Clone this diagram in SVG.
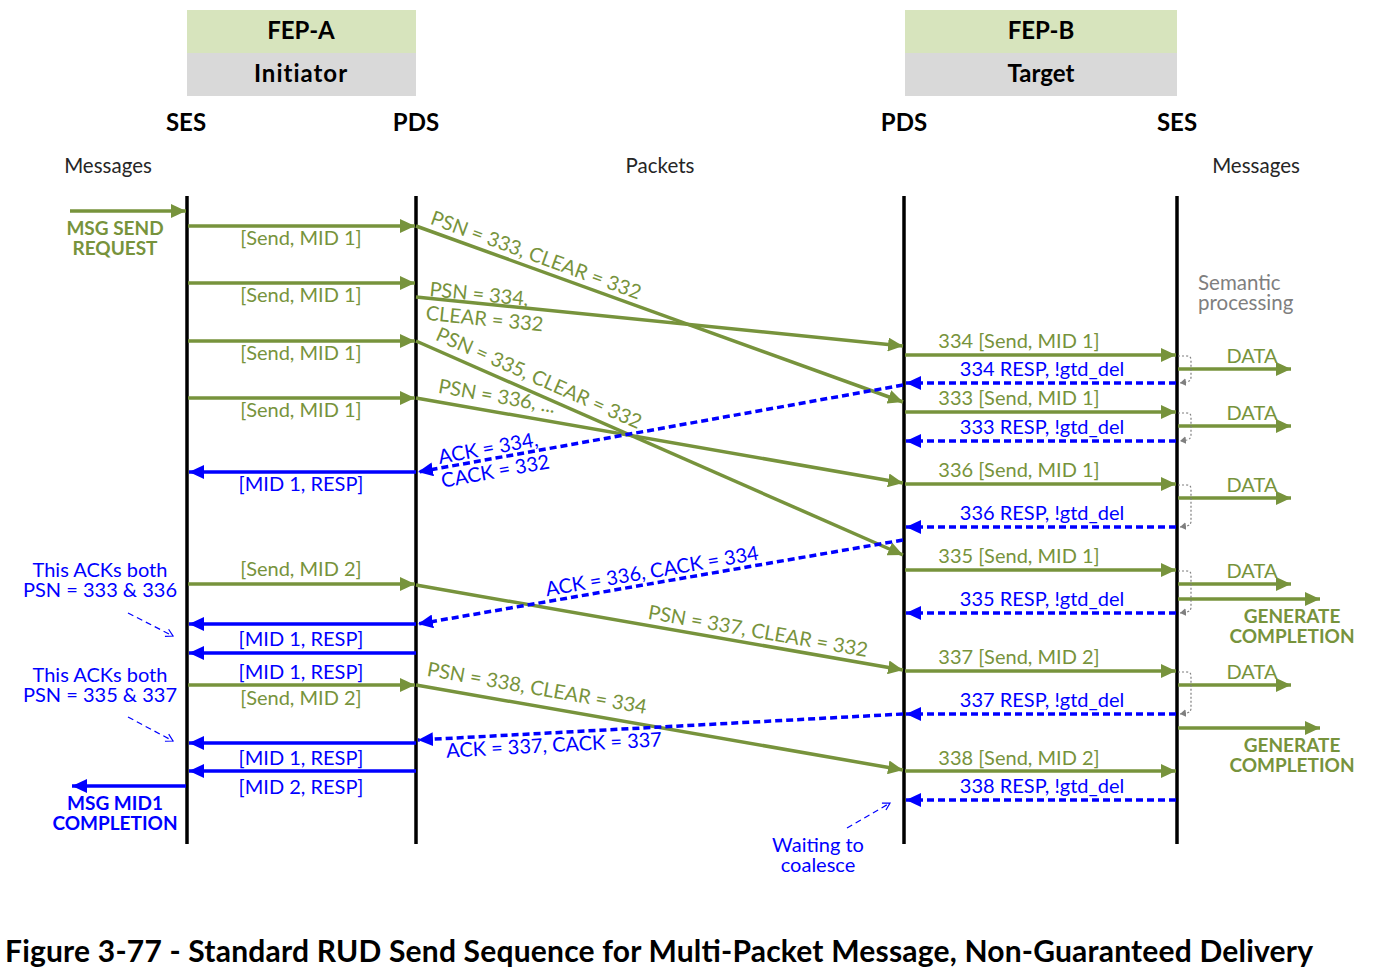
<svg xmlns="http://www.w3.org/2000/svg" width="1373" height="976" viewBox="0 0 1373 976">
<style>
text{font-family:Lato,"Liberation Sans",sans-serif}
.g{stroke:#77933c;stroke-width:3.5;fill:none}
.b{stroke:#0000ff;stroke-width:3.5;fill:none}
.bd{stroke:#0000ff;stroke-width:3.5;fill:none;stroke-dasharray:7 4}
.life{stroke:#000;stroke-width:3.5}
.note{stroke:#0000ff;stroke-width:1.2;fill:none;stroke-dasharray:6 4}
.sem{stroke:#7f7f7f;stroke-width:1.2;fill:none;stroke-dasharray:2 2}
.tg{fill:#77933c;font-size:20px}
.tb{fill:#0000ff;font-size:20px}
.tgb{fill:#77933c;font-size:19px;font-weight:bold}
.tbb{fill:#0000ff;font-size:19px;font-weight:bold}
.hd{fill:#000;font-size:24px;font-weight:bold}
.sm{fill:#262626;font-size:20.5px}
.gr{fill:#7f7f7f;font-size:20.5px}
.c{text-anchor:middle}
</style>
<defs>
<marker id="ag" markerUnits="userSpaceOnUse" markerWidth="16" markerHeight="14" refX="15" refY="7" orient="auto"><path d="M0,0 L15,7 L0,14 z" fill="#77933c"/></marker>
<marker id="ab" markerUnits="userSpaceOnUse" markerWidth="16" markerHeight="14" refX="15" refY="7" orient="auto"><path d="M0,0 L15,7 L0,14 z" fill="#0000ff"/></marker>
<marker id="an" markerUnits="userSpaceOnUse" markerWidth="10" markerHeight="10" refX="8" refY="5" orient="auto"><path d="M1,1 L8,5 L1,9" fill="none" stroke="#0000ff" stroke-width="1.2"/></marker>
<marker id="as" markerUnits="userSpaceOnUse" markerWidth="8" markerHeight="8" refX="6" refY="4" orient="auto"><path d="M0,0 L6,4 L0,8 z" fill="#7f7f7f"/></marker>
</defs>

<g id="fep-a">
<rect x="187" y="10" width="229" height="43" fill="#d7e4bd"/>
<rect x="187" y="53" width="229" height="43" fill="#d9d9d9"/>
<text class="hd c" x="301" y="39">FEP-A</text>
<text class="hd c" x="301" y="82" style="letter-spacing:1px">Initiator</text>
</g>
<g id="fep-b">
<rect x="905" y="10" width="272" height="43" fill="#d7e4bd"/>
<rect x="905" y="53" width="272" height="43" fill="#d9d9d9"/>
<text class="hd c" x="1041" y="39">FEP-B</text>
<text class="hd c" x="1041" y="82">Target</text>
</g>

<g id="ses-a"><text class="hd c" x="186" y="131">SES</text><line class="life" x1="187" y1="196" x2="187" y2="844"/></g>
<g id="pds-a"><text class="hd c" x="416" y="131">PDS</text><line class="life" x1="416" y1="196" x2="416" y2="844"/></g>
<g id="pds-b"><text class="hd c" x="904" y="131">PDS</text><line class="life" x1="904" y1="196" x2="904" y2="844"/></g>
<g id="ses-b"><text class="hd c" x="1177" y="131">SES</text><line class="life" x1="1177" y1="196" x2="1177" y2="844"/></g>

<g id="section-labels">
<text class="sm c" x="108" y="173">Messages</text>
<text class="sm c" x="660" y="173">Packets</text>
<text class="sm c" x="1256" y="173">Messages</text>
<text class="gr" x="1198" y="290">Semantic<tspan x="1198" dy="20">processing</tspan></text>
</g>

<g id="connectors">
<path class="g" marker-end="url(#ag)" d="M70,211 H186"/>
<path class="g" marker-end="url(#ag)" d="M188,226 H415"/>
<path class="g" marker-end="url(#ag)" d="M188,283 H415"/>
<path class="g" marker-end="url(#ag)" d="M188,341 H415"/>
<path class="g" marker-end="url(#ag)" d="M188,398 H415"/>
<path class="g" marker-end="url(#ag)" d="M188,584 H415"/>
<path class="g" marker-end="url(#ag)" d="M188,685 H415"/>
<path class="g" marker-end="url(#ag)" d="M416,226 L903,402"/>
<path class="g" marker-end="url(#ag)" d="M416,297 L903,346"/>
<path class="g" marker-end="url(#ag)" d="M416,341 L903,555"/>
<path class="g" marker-end="url(#ag)" d="M416,398 L903,483"/>
<path class="g" marker-end="url(#ag)" d="M416,585 L903,670"/>
<path class="g" marker-end="url(#ag)" d="M416,685 L903,770"/>
<path class="g" marker-end="url(#ag)" d="M905,355 H1176"/>
<path class="g" marker-end="url(#ag)" d="M905,412 H1176"/>
<path class="g" marker-end="url(#ag)" d="M905,484 H1176"/>
<path class="g" marker-end="url(#ag)" d="M905,570 H1176"/>
<path class="g" marker-end="url(#ag)" d="M905,671 H1176"/>
<path class="g" marker-end="url(#ag)" d="M905,771 H1176"/>
<path class="g" marker-end="url(#ag)" d="M1178,369 H1291"/>
<path class="g" marker-end="url(#ag)" d="M1178,426 H1291"/>
<path class="g" marker-end="url(#ag)" d="M1178,498 H1291"/>
<path class="g" marker-end="url(#ag)" d="M1178,584 H1291"/>
<path class="g" marker-end="url(#ag)" d="M1178,599 H1320"/>
<path class="g" marker-end="url(#ag)" d="M1178,685 H1291"/>
<path class="g" marker-end="url(#ag)" d="M1178,728 H1320"/>
<path class="b" marker-end="url(#ab)" d="M416,472 H189"/>
<path class="b" marker-end="url(#ab)" d="M416,624 H189"/>
<path class="b" marker-end="url(#ab)" d="M416,653 H189"/>
<path class="b" marker-end="url(#ab)" d="M416,743 H189"/>
<path class="b" marker-end="url(#ab)" d="M416,771 H189"/>
<path class="b" marker-end="url(#ab)" d="M186,786 H72"/>
<path class="bd" marker-end="url(#ab)" d="M1176,383 H906"/>
<path class="bd" marker-end="url(#ab)" d="M1176,441 H906"/>
<path class="bd" marker-end="url(#ab)" d="M1176,527 H906"/>
<path class="bd" marker-end="url(#ab)" d="M1176,613 H906"/>
<path class="bd" marker-end="url(#ab)" d="M1176,714 H906"/>
<path class="bd" marker-end="url(#ab)" d="M1176,800 H906"/>
<path class="bd" marker-end="url(#ab)" d="M903,385 L418,472"/>
<path class="bd" marker-end="url(#ab)" d="M903,540 L418,624"/>
<path class="bd" marker-end="url(#ab)" d="M903,714 L418,740"/>
<path class="sem" marker-end="url(#as)" d="M1178,356 H1187 Q1191,356 1191,360 V377 Q1191,381 1187,382 L1180,383"/>
<path class="sem" marker-end="url(#as)" d="M1178,413 H1187 Q1191,413 1191,417 V435 Q1191,439 1187,440 L1180,441"/>
<path class="sem" marker-end="url(#as)" d="M1178,485 H1187 Q1191,485 1191,489 V521 Q1191,525 1187,526 L1180,527"/>
<path class="sem" marker-end="url(#as)" d="M1178,571 H1187 Q1191,571 1191,575 V607 Q1191,611 1187,612 L1180,613"/>
<path class="sem" marker-end="url(#as)" d="M1178,672 H1187 Q1191,672 1191,676 V708 Q1191,712 1187,713 L1180,714"/>
<path class="note" marker-end="url(#an)" d="M128,613 L173,636"/>
<path class="note" marker-end="url(#an)" d="M128,717 L173,741"/>
<path class="note" marker-end="url(#an)" d="M847,828 L890,803"/>
</g>

<g id="initiator-labels">
<text class="tgb c" x="115" y="235">MSG SEND<tspan x="115" dy="20">REQUEST</tspan></text>
<text class="tg c" x="301" y="245">[Send, MID 1]</text>
<text class="tg c" x="301" y="302">[Send, MID 1]</text>
<text class="tg c" x="301" y="360">[Send, MID 1]</text>
<text class="tg c" x="301" y="417">[Send, MID 1]</text>
<text class="tb c" x="301" y="491">[MID 1, RESP]</text>
<text class="tg c" x="301" y="576">[Send, MID 2]</text>
<text class="tb c" x="301" y="646">[MID 1, RESP]</text>
<text class="tb c" x="301" y="679">[MID 1, RESP]</text>
<text class="tg c" x="301" y="705">[Send, MID 2]</text>
<text class="tb c" x="301" y="765">[MID 1, RESP]</text>
<text class="tb c" x="301" y="794">[MID 2, RESP]</text>
<text class="tb c" x="100" y="577">This ACKs both<tspan x="100" dy="20">PSN = 333 &amp; 336</tspan></text>
<text class="tb c" x="100" y="682">This ACKs both<tspan x="100" dy="20">PSN = 335 &amp; 337</tspan></text>
<text class="tbb c" x="115" y="810">MSG MID1<tspan x="115" dy="20">COMPLETION</tspan></text>
</g>

<g id="packet-labels">
<text class="tg c" transform="translate(536,255) rotate(20)" y="7">PSN = 333, CLEAR = 332</text>
<text class="tg c" transform="translate(479,294) rotate(5.7)" y="7">PSN = 334,<tspan x="8" dy="24">CLEAR = 332</tspan></text>
<text class="tg c" transform="translate(539,378) rotate(23.8)" y="7">PSN = 335, CLEAR = 332</text>
<text class="tg c" transform="translate(497,396) rotate(9.9)" y="7">PSN = 336, ...</text>
<text class="tb c" transform="translate(488,448) rotate(-10.3)" y="7">ACK = 334,<tspan x="3" dy="24">CACK = 332</tspan></text>
<text class="tb c" transform="translate(652,571) rotate(-9.8)" y="7">ACK = 336, CACK = 334</text>
<text class="tg c" transform="translate(758,631) rotate(9.9)" y="7">PSN = 337, CLEAR = 332</text>
<text class="tg c" transform="translate(537,688) rotate(9.9)" y="7">PSN = 338, CLEAR = 334</text>
<text class="tb c" transform="translate(554,745) rotate(-3)" y="7">ACK = 337, CACK = 337</text>
<text class="tb c" x="818" y="852">Waiting to<tspan x="818" dy="20">coalesce</tspan></text>
</g>

<g id="target-labels">
<text class="tg c" x="1019" y="348">334 [Send, MID 1]</text>
<text class="tb c" x="1042" y="376">334 RESP, !gtd_del</text>
<text class="tg c" x="1019" y="405">333 [Send, MID 1]</text>
<text class="tb c" x="1042" y="434">333 RESP, !gtd_del</text>
<text class="tg c" x="1019" y="477">336 [Send, MID 1]</text>
<text class="tb c" x="1042" y="520">336 RESP, !gtd_del</text>
<text class="tg c" x="1019" y="563">335 [Send, MID 1]</text>
<text class="tb c" x="1042" y="606">335 RESP, !gtd_del</text>
<text class="tg c" x="1019" y="664">337 [Send, MID 2]</text>
<text class="tb c" x="1042" y="707">337 RESP, !gtd_del</text>
<text class="tg c" x="1019" y="765">338 [Send, MID 2]</text>
<text class="tb c" x="1042" y="793">338 RESP, !gtd_del</text>
<text class="tg c" x="1252" y="363">DATA</text>
<text class="tg c" x="1252" y="420">DATA</text>
<text class="tg c" x="1252" y="492">DATA</text>
<text class="tg c" x="1252" y="578">DATA</text>
<text class="tg c" x="1252" y="679">DATA</text>
<text class="tgb c" x="1292" y="623">GENERATE<tspan x="1292" dy="20">COMPLETION</tspan></text>
<text class="tgb c" x="1292" y="752">GENERATE<tspan x="1292" dy="20">COMPLETION</tspan></text>
</g>

<g id="caption">
<text x="5" y="962" textLength="1308" lengthAdjust="spacing" style="font-size:30px;font-weight:bold;fill:#000">Figure 3-77 - Standard RUD Send Sequence for Multi-Packet Message, Non-Guaranteed Delivery</text>
</g>
</svg>
